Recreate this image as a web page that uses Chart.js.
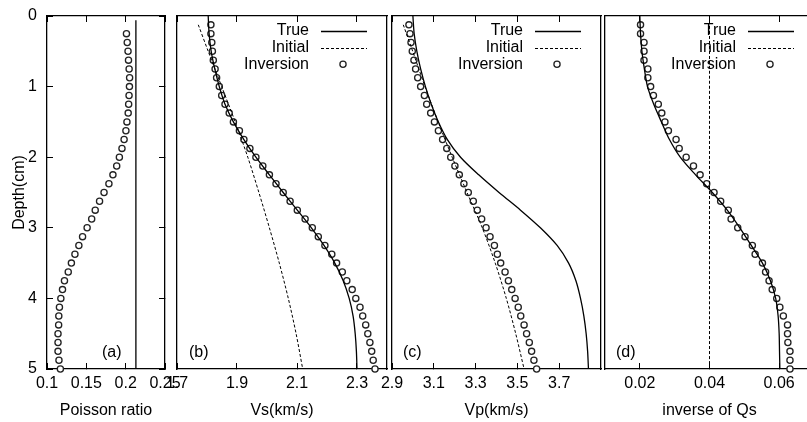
<!DOCTYPE html>
<html>
<head>
<meta charset="utf-8">
<script src="https://cdn.jsdelivr.net/npm/chart.js@4.4.0/dist/chart.umd.min.js"></script>
<style>
  html, body { margin: 0; padding: 0; background: #fff; overflow: hidden; }
  body { width: 807px; height: 422px; position: relative; }
  canvas { position: absolute; top: 0; }
</style>
</head>
<body>
<canvas id="panelB"></canvas>
<canvas id="panelC"></canvas>
<canvas id="panelD"></canvas>
<canvas id="panelA"></canvas>
<script>
// depth samples (cm)
const depthTicks = [0, 1, 2, 3, 4, 5];
const depthLine = [0, 0.25, 0.5, 0.75, 1, 1.25, 1.5, 1.75, 2, 2.25, 2.5, 2.75, 3, 3.25, 3.5, 3.75, 4, 4.25, 4.5, 4.75, 5];
const depthInitial = [0.125, 0.5, 1, 1.5, 2, 2.5, 3, 3.5, 4, 4.5, 5];
const depthInv = [0.125, 0.25, 0.375, 0.5, 0.625, 0.75, 0.875, 1, 1.125, 1.25, 1.375, 1.5, 1.625, 1.75, 1.875, 2,
  2.125, 2.25, 2.375, 2.5, 2.625, 2.75, 2.875, 3, 3.125, 3.25, 3.375, 3.5, 3.625, 3.75, 3.875, 4,
  4.125, 4.25, 4.375, 4.5, 4.625, 4.75, 4.875, 5];

// (a) Poisson ratio
const poissonTicks = [0.1, 0.15, 0.2, 0.25];
const poissonLabels = ['0.1', '0.15', '0.2', '0.25'];
const poissonTrueDepth = [0.06, 5];
const poissonTrue = [0.213, 0.213];
const poissonInvDepth = depthInv.slice(1);
const poissonInv = [0.201, 0.202, 0.203, 0.2036, 0.2044, 0.205, 0.2048, 0.2043, 0.2038, 0.2032, 0.2016, 0.2003,
  0.198, 0.1953, 0.192, 0.1886, 0.1838, 0.1787, 0.1725, 0.1668, 0.1613, 0.1568, 0.151, 0.1452, 0.1405,
  0.1355, 0.131, 0.127, 0.1222, 0.1197, 0.1176, 0.1158, 0.115, 0.1148, 0.114, 0.114, 0.114, 0.1152, 0.117];

// (b) Vs
const vsTicks = [1.7, 1.9, 2.1, 2.3];
const vsLabels = ['1.7', '1.9', '2.1', '2.3'];
const vsTrue = [1.804, 1.807, 1.814, 1.826, 1.841, 1.860, 1.888, 1.923, 1.963, 2.008, 2.054, 2.101, 2.148,
  2.190, 2.226, 2.254, 2.274, 2.287, 2.294, 2.298, 2.300];
const vsInitial = [1.771, 1.804, 1.849, 1.894, 1.936, 1.973, 2.008, 2.041, 2.071, 2.097, 2.119];
const vsInv = [1.813, 1.813, 1.816, 1.818, 1.821, 1.827, 1.832, 1.841, 1.849, 1.860, 1.874, 1.888, 1.908, 1.923,
  1.943, 1.963, 1.986, 2.008, 2.030, 2.054, 2.077, 2.101, 2.127, 2.151, 2.171, 2.193, 2.216, 2.232, 2.251,
  2.266, 2.284, 2.296, 2.310, 2.319, 2.329, 2.336, 2.343, 2.349, 2.354, 2.360];

// (c) Vp
const vpTicks = [2.9, 3.1, 3.3, 3.5, 3.7];
const vpLabels = ['2.9', '3.1', '3.3', '3.5', '3.7'];
const vpTrue = [3.000, 3.006, 3.019, 3.037, 3.060, 3.088, 3.122, 3.165, 3.228, 3.315, 3.412, 3.515, 3.610,
  3.690, 3.745, 3.780, 3.802, 3.818, 3.829, 3.836, 3.840];
const vpInitial = [2.954, 2.999, 3.058, 3.121, 3.188, 3.259, 3.332, 3.394, 3.447, 3.492, 3.532];
const vpInv = [2.981, 2.986, 2.991, 2.997, 3.005, 3.013, 3.023, 3.037, 3.055, 3.066, 3.085, 3.103, 3.122, 3.142,
  3.162, 3.181, 3.201, 3.222, 3.244, 3.265, 3.289, 3.308, 3.329, 3.350, 3.369, 3.390, 3.404, 3.420, 3.441,
  3.457, 3.473, 3.489, 3.504, 3.516, 3.532, 3.544, 3.557, 3.568, 3.579, 3.592];

// (d) inverse of Qs
const qsTicks = [0.02, 0.04, 0.06];
const qsLabels = ['0.02', '0.04', '0.06'];
const qsTrue = [0.0200, 0.0202, 0.0206, 0.0213, 0.0222, 0.0240, 0.0262, 0.0285, 0.0316, 0.0360, 0.0408, 0.0451,
  0.0487, 0.0520, 0.0552, 0.0575, 0.0590, 0.0597, 0.0600, 0.0601, 0.0602];
const qsInitialDepth = [0, 5];
const qsInitial = [0.04, 0.04];
const qsInv = [0.0202, 0.0202, 0.0212, 0.0212, 0.0212, 0.0223, 0.0223, 0.0231, 0.0239, 0.0253, 0.0263, 0.0272,
  0.0282, 0.0304, 0.0313, 0.0333, 0.0354, 0.0373, 0.0392, 0.0413, 0.0432, 0.0454, 0.0462, 0.0481, 0.0502,
  0.0523, 0.0531, 0.0552, 0.0561, 0.0571, 0.0580, 0.0593, 0.0602, 0.0612, 0.0624, 0.0624, 0.0625, 0.0631,
  0.0631, 0.0631];

const font = { family: '"Liberation Sans", Arial, Helvetica, sans-serif', size: 16 };
const TOP = 16, BOTTOM = 369;

function pairs(xs, ys) {
  return xs.map((x, i) => ({ x: x, y: ys[i] }));
}

function lineSet(label, values, depths, dashed) {
  return {
    label: label,
    data: pairs(values, depths),
    showLine: true,
    borderColor: '#000',
    borderWidth: dashed ? 1 : 1.3,
    borderDash: dashed ? [3, 2] : [],
    pointRadius: 0,
    tension: 0.3,
    fill: false
  };
}

// open circles, like gnuplot's point type 6
function invSet(values, depths) {
  return {
    label: 'Inversion',
    data: pairs(values, depths),
    showLine: false,
    pointStyle: 'circle',
    pointRadius: 3.1,
    pointBorderWidth: 1.3,
    pointBorderColor: '#222',
    pointBackgroundColor: '#fff',
    clip: false
  };
}

// legend + panel tag
const notePlugin = {
  id: 'note',
  afterDraw(chart) {
    const opts = chart.options.plugins.note;
    const { ctx, chartArea: a } = chart;
    ctx.save();
    ctx.fillStyle = '#000';
    ctx.strokeStyle = '#000';
    ctx.font = font.size + 'px ' + font.family;
    ctx.textBaseline = 'middle';
    ctx.textAlign = 'left';
    ctx.fillText(opts.tag, a.left + opts.tagX, 353);
    if (opts.legend) {
      const rows = [15, 31.8, 48.3];
      chart.data.datasets.forEach((ds, i) => {
        const y = a.top + rows[i];
        ctx.textAlign = 'right';
        ctx.fillText(ds.label, a.right - 78, y);
        ctx.beginPath();
        if (ds.showLine) {
          ctx.lineWidth = ds.borderWidth;
          ctx.setLineDash(ds.borderDash);
          ctx.moveTo(a.right - 66, Math.round(y) + 0.5);
          ctx.lineTo(a.right - 20, Math.round(y) + 0.5);
          ctx.stroke();
          ctx.setLineDash([]);
        } else {
          ctx.lineWidth = ds.pointBorderWidth;
          ctx.strokeStyle = ds.pointBorderColor;
          ctx.arc(a.right - 44, y, ds.pointRadius, 0, Math.PI * 2);
          ctx.stroke();
          ctx.strokeStyle = '#000';
        }
      });
    }
    ctx.restore();
  }
};

const frameBorder = { display: true, color: '#000', width: 1.3 };
const inwardTicks = { display: true, drawOnChartArea: false, drawTicks: true, tickLength: -6, color: '#000', lineWidth: 1 };

function xAxis(min, max, ticks, labels, title) {
  return {
    type: 'linear',
    position: 'bottom',
    min: min,
    max: max,
    afterBuildTicks: s => { s.ticks = ticks.map(v => ({ value: v })); },
    afterFit: s => { s.height = 422 - BOTTOM; s.paddingLeft = 0; s.paddingRight = 0; },
    grid: inwardTicks,
    border: frameBorder,
    ticks: {
      color: '#000', font: font, padding: 11, maxRotation: 0, autoSkip: false,
      callback: (v, i) => labels[i]
    },
    title: { display: true, text: title, color: '#000', font: font, padding: { top: 0, bottom: 1.4 } }
  };
}

// top edge of the frame, mirror ticks
function xTop(min, max, ticks) {
  return {
    type: 'linear',
    position: 'top',
    min: min,
    max: max,
    afterBuildTicks: s => { s.ticks = ticks.map(v => ({ value: v })); },
    afterFit: s => { s.height = 0; s.paddingLeft = 0; s.paddingRight = 0; },
    grid: inwardTicks,
    border: frameBorder,
    ticks: { display: false }
  };
}

function yAxis(show) {
  return {
    type: 'linear',
    position: 'left',
    reverse: true,
    min: 0,
    max: 5,
    afterBuildTicks: s => { s.ticks = depthTicks.map(v => ({ value: v })); },
    afterFit: s => {
      s.width = show ? 47 : 0;
      s.paddingTop = 0; s.paddingBottom = 0;
    },
    grid: show ? inwardTicks : { display: false, drawTicks: false },
    border: frameBorder,
    ticks: { display: show, color: '#000', font: font, padding: 16, callback: v => String(v) },
    title: { display: show, text: 'Depth(cm)', color: '#000', font: font, padding: { top: 10.4, bottom: 0 } }
  };
}

// right edge of the frame
function yRight(show) {
  return {
    type: 'linear',
    position: 'right',
    reverse: true,
    min: 0,
    max: 5,
    afterBuildTicks: s => { s.ticks = depthTicks.map(v => ({ value: v })); },
    afterFit: s => { s.width = 0; s.paddingTop = 0; s.paddingBottom = 0; },
    grid: show ? inwardTicks : { display: false, drawTicks: false },
    border: frameBorder,
    ticks: { display: false }
  };
}

function makePanel(id, left, width, pad, datasets, range, ticks, labels, title, showY, noteOpts) {
  const cv = document.getElementById(id);
  cv.width = width; cv.height = 422;
  cv.style.left = left + 'px';
  cv.style.width = width + 'px';
  cv.style.height = '422px';
  return new Chart(cv, {
    type: 'scatter',
    data: { datasets: datasets },
    options: {
      responsive: false,
      animation: false,
      devicePixelRatio: 1,
      layout: { padding: { top: TOP, left: pad.left, right: pad.right, bottom: 0 } },
      scales: {
        x: xAxis(range[0], range[1], ticks, labels, title),
        x2: xTop(range[0], range[1], ticks),
        y: yAxis(showY),
        y2: yRight(showY)
      },
      plugins: { legend: { display: false }, tooltip: { enabled: false }, note: noteOpts }
    },
    plugins: [notePlugin]
  });
}

// (a) frame x 47..165
makePanel('panelA', 0, 190, { left: 0, right: 25 }, [
  lineSet('True', poissonTrue, poissonTrueDepth, false),
  invSet(poissonInv, poissonInvDepth)
], [0.1, 0.25], poissonTicks, poissonLabels, 'Poisson ratio', true,
  { tag: '(a)', tagX: 55, legend: false });

// (b) frame x 177..387
makePanel('panelB', 157, 250, { left: 20, right: 20 }, [
  lineSet('True', vsTrue, depthLine, false),
  lineSet('Initial', vsInitial, depthInitial, true),
  invSet(vsInv, depthInv)
], [1.7, 2.4], vsTicks, vsLabels, 'Vs(km/s)', false,
  { tag: '(b)', tagX: 12, legend: true });

// (c) frame x 392..601
makePanel('panelC', 372, 249, { left: 20, right: 20 }, [
  lineSet('True', vpTrue, depthLine, false),
  lineSet('Initial', vpInitial, depthInitial, true),
  invSet(vpInv, depthInv)
], [2.9, 3.9], vpTicks, vpLabels, 'Vp(km/s)', false,
  { tag: '(c)', tagX: 11, legend: true });

// (d) frame x 605..814 (right edge falls outside the picture)
makePanel('panelD', 585, 249, { left: 20, right: 20 }, [
  lineSet('True', qsTrue, depthLine, false),
  lineSet('Initial', qsInitial, qsInitialDepth, true),
  invSet(qsInv, depthInv)
], [0.01, 0.07], qsTicks, qsLabels, 'inverse of Qs', false,
  { tag: '(d)', tagX: 11, legend: true });
</script>
</body>
</html>
